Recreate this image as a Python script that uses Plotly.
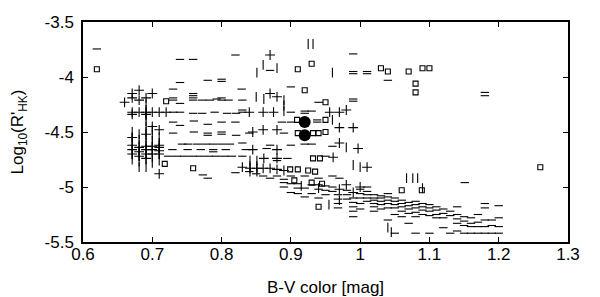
import plotly.graph_objects as go

# ---- data (B-V colour, log10 R'HK) ----
dash_x = [0.62, 0.74, 0.759, 0.82, 0.74, 0.73, 0.78, 0.80, 0.80, 0.829, 0.87, 0.90, 0.99, 0.99, 1.01, 1.01,
          0.99, 0.99, 1.04, 1.18, 1.18, 0.94, 0.99,
          0.73, 0.73, 0.74, 0.759, 0.759, 0.759, 0.759, 0.772, 0.783, 0.793, 0.80, 0.80, 0.81, 0.83,
          0.73, 0.74, 0.759, 0.772, 0.79, 0.808, 0.821, 0.83, 0.83, 0.90, 0.92, 0.92, 0.93,
          0.73, 0.74, 0.76, 0.78, 0.80, 0.82, 0.887, 0.90, 0.938, 0.938,
          0.73, 0.76, 0.78, 0.78, 0.80, 0.80, 0.821, 0.84, 0.89,
          0.743, 0.752, 0.765, 0.777, 0.788, 0.80, 0.812, 0.83, 0.87, 0.90, 0.92, 0.93, 0.96,
          0.729, 0.751, 0.77, 0.788, 0.788, 0.806, 0.835, 0.865,
          0.723, 0.735, 0.746, 0.758, 0.769, 0.781, 0.792, 0.804, 0.815, 0.83, 0.88, 0.895, 0.95,
          0.773, 0.78, 0.82, 0.84, 0.85, 0.86, 0.87, 0.88, 0.89, 0.90, 0.92, 0.94, 0.96, 0.97, 1.151,
          0.89, 0.90, 0.91, 0.93, 0.94, 0.95, 0.96, 0.89, 0.91, 0.92, 0.94, 0.95, 0.96,
          0.90, 0.91, 0.93, 0.95, 0.92, 0.94,
          0.968, 0.968, 0.968, 0.968, 0.981, 0.981, 0.981, 0.99, 0.99, 0.99, 0.99, 0.99,
          1.00, 1.00, 1.00, 1.00, 1.00, 1.01, 1.01, 1.01, 1.01, 1.01,
          1.02, 1.02, 1.02, 1.02, 1.02, 1.02, 1.03, 1.03, 1.03, 1.03, 1.03,
          1.04, 1.04, 1.04, 1.04, 1.04, 1.04, 1.05, 1.05, 1.05, 1.05, 1.05, 1.05,
          1.06, 1.06, 1.06, 1.06, 1.06, 1.07, 1.07, 1.07, 1.07, 1.07,
          1.08, 1.08, 1.08, 1.08, 1.08, 1.08, 1.09, 1.09, 1.09, 1.09,
          1.10, 1.10, 1.10, 1.10, 1.10, 1.11, 1.11, 1.11, 1.11,
          1.12, 1.12, 1.12, 1.12, 1.13, 1.13, 1.13, 1.14, 1.14, 1.14, 1.14, 1.14,
          1.15, 1.15, 1.15, 1.15, 1.16, 1.16, 1.16, 1.16, 1.17, 1.17, 1.17, 1.17,
          1.18, 1.18, 1.18, 1.18, 1.18, 1.19, 1.19, 1.19, 1.20, 1.20, 1.20, 1.20]
dash_y = [-3.745, -3.84, -3.84, -3.80, -4.05, -4.11, -4.03, -4.02, -4.04, -4.11, -3.94, -4.09, -3.95, -3.97, -3.95, -3.97,
          -4.20, -4.22, -4.03, -4.14, -4.17, -4.23, -3.79,
          -4.19, -4.21, -4.24, -4.15, -4.17, -4.19, -4.21, -4.21, -4.21, -4.20, -4.19, -4.21, -4.21, -4.21,
          -4.32, -4.32, -4.33, -4.33, -4.32, -4.33, -4.33, -4.30, -4.32, -4.32, -4.31, -4.33, -4.31,
          -4.41, -4.44, -4.40, -4.43, -4.41, -4.41, -4.41, -4.41, -4.39, -4.41,
          -4.51, -4.50, -4.51, -4.53, -4.50, -4.52, -4.53, -4.51, -4.51,
          -4.61, -4.61, -4.61, -4.61, -4.61, -4.61, -4.61, -4.60, -4.62, -4.62, -4.61, -4.61, -4.63,
          -4.66, -4.66, -4.66, -4.66, -4.68, -4.66, -4.66, -4.65,
          -4.72, -4.72, -4.72, -4.72, -4.72, -4.72, -4.72, -4.72, -4.72, -4.72, -4.76, -4.74, -4.72,
          -4.89, -4.92, -4.87, -4.86, -4.88, -4.90, -4.92, -4.90, -4.93, -4.90, -4.90, -4.92, -4.90, -4.92, -4.96,
          -4.96, -4.97, -4.97, -4.98, -4.98, -4.99, -5.00, -5.00, -5.01, -5.01, -5.02, -5.03, -5.04,
          -5.05, -5.06, -5.06, -5.07, -5.09, -5.10,
          -5.07, -5.11, -5.15, -5.19, -5.03, -5.07, -5.11, -5.10, -5.14, -5.18, -5.22, -5.27,
          -5.02, -5.06, -5.10, -5.15, -5.20, -5.00, -5.04, -5.07, -5.10, -5.13,
          -5.07, -5.10, -5.12, -5.15, -5.18, -5.22, -5.08, -5.10, -5.13, -5.16, -5.20,
          -5.06, -5.09, -5.12, -5.15, -5.19, -5.30, -5.10, -5.13, -5.16, -5.19, -5.25, -5.42,
          -5.12, -5.15, -5.18, -5.22, -5.27, -5.14, -5.17, -5.20, -5.24, -5.33,
          -5.13, -5.16, -5.19, -5.23, -5.27, -5.42, -5.15, -5.18, -5.21, -5.25,
          -5.16, -5.19, -5.22, -5.26, -5.42, -5.18, -5.21, -5.25, -5.28,
          -5.20, -5.24, -5.28, -5.37, -5.22, -5.26, -5.42, -5.18, -5.25, -5.29, -5.33, -5.40,
          -5.27, -5.31, -5.35, -5.42, -5.28, -5.33, -5.36, -5.42, -5.25, -5.32, -5.36, -5.42,
          -5.15, -5.19, -5.30, -5.36, -5.42, -5.30, -5.35, -5.42, -5.17, -5.28, -5.36, -5.42]

plus_x = [0.671, 0.671, 0.671, 0.671, 0.671, 0.671, 0.671, 0.671,
          0.681, 0.681, 0.681, 0.681, 0.681, 0.681,
          0.691, 0.691, 0.691, 0.691, 0.691, 0.691, 0.691, 0.691,
          0.70, 0.70, 0.70, 0.70, 0.70, 0.70,
          0.71, 0.71, 0.71, 0.71, 0.71, 0.71, 0.71, 0.72, 0.66,
          0.845, 0.86, 0.88, 0.87, 0.87, 0.88, 0.84, 0.86, 0.875, 0.956, 0.97, 0.98, 0.99, 0.97,
          0.997, 0.845, 0.88, 0.97, 0.861, 0.88, 0.961, 0.841, 0.851, 0.86, 0.87, 0.88, 0.89,
          0.83, 1.01, 0.98, 1.00, 0.97, 0.99]
plus_y = [-4.15, -4.19, -4.32, -4.34, -4.55, -4.62, -4.66, -4.70,
          -4.12, -4.21, -4.32, -4.64, -4.68, -4.72,
          -4.19, -4.32, -4.34, -4.52, -4.63, -4.66, -4.70, -4.74,
          -4.15, -4.32, -4.45, -4.63, -4.66, -4.70,
          -4.32, -4.48, -4.62, -4.64, -4.67, -4.70, -4.88, -4.32, -4.23,
          -4.50, -4.48, -4.48, -3.80, -4.15, -4.18, -4.32, -4.32, -4.32, -4.32, -4.32, -4.30, -4.46, -4.46,
          -4.65, -4.66, -4.66, -4.60, -4.74, -4.74, -4.73, -4.83, -4.83, -4.83, -4.83, -4.84, -4.85,
          -4.82, -4.82, -4.98, -5.00, -5.02, -5.05]

square_x = [0.62, 0.91, 0.93, 0.92, 0.95, 0.909, 0.95, 0.91, 0.932, 0.94, 0.72, 0.759, 0.718,
            1.03, 1.04, 1.07, 1.09, 1.10, 1.08, 1.08, 1.26, 0.94, 1.06, 1.089, 0.95, 0.932, 0.942,
            0.899, 0.91, 0.925, 0.935, 0.905, 0.93, 0.945]
square_y = [-3.93, -3.93, -3.88, -4.12, -4.23, -4.39, -4.39, -4.51, -4.51, -4.51, -4.22, -4.83, -4.79,
            -3.92, -3.95, -3.95, -3.92, -3.92, -4.06, -4.14, -4.82, -5.18, -5.03, -5.03, -4.50, -4.74, -4.74,
            -4.84, -4.84, -4.85, -4.86, -4.94, -4.96, -4.97]

vbar_x = [0.671, 0.671, 0.671, 0.671, 0.671, 0.671,
          0.681, 0.681, 0.681, 0.681, 0.681, 0.681, 0.681,
          0.691, 0.691, 0.691, 0.691, 0.691, 0.691, 0.691, 0.691, 0.691, 0.691, 0.691, 0.691,
          0.70, 0.70, 0.70, 0.70, 0.70, 0.70, 0.70,
          0.71, 0.71, 0.71, 0.71, 0.71,
          0.925, 0.932, 0.86, 0.88, 0.851, 0.96, 0.85, 0.861, 0.89, 0.89, 0.89, 0.96,
          0.841, 0.841, 0.841, 0.851, 0.851, 0.851, 0.98, 0.99, 1.00,
          1.067, 1.076, 1.083, 1.09, 1.045, 1.04,
          0.915, 0.94, 0.955, 0.97]
vbar_y = [-4.50, -4.55, -4.60, -4.65, -4.70, -4.75,
          -4.52, -4.57, -4.62, -4.67, -4.72, -4.77, -4.82,
          -4.25, -4.30, -4.35, -4.40, -4.45, -4.50, -4.55, -4.60, -4.65, -4.70, -4.75, -4.82,
          -4.48, -4.53, -4.58, -4.63, -4.68, -4.73, -4.78,
          -4.55, -4.60, -4.65, -4.70, -4.76,
          -3.70, -3.70, -3.89, -3.92, -3.96, -3.96, -4.18, -4.20, -4.21, -4.26, -4.31, -4.39,
          -4.76, -4.81, -4.86, -4.76, -4.81, -4.86, -4.64, -4.80, -4.82,
          -4.92, -4.92, -4.92, -5.01, -5.41, -5.37,
          -4.99, -5.01, -5.16, -5.12]

circle_x = [0.92, 0.92]
circle_y = [-4.41, -4.53]

x_ticks = [0.6, 0.7, 0.8, 0.9, 1.0, 1.1, 1.2, 1.3]
x_tick_text = ["0.6", "0.7", "0.8", "0.9", "1", "1.1", "1.2", "1.3"]
y_ticks = [-5.5, -5.0, -4.5, -4.0, -3.5]
y_tick_text = ["-5.5", "-5", "-4.5", "-4", "-3.5"]

fig = go.Figure()
lw = 1.1
fig.add_trace(go.Scatter(x=dash_x, y=dash_y, mode="markers",
                         marker=dict(symbol="line-ew", size=6, line=dict(width=lw, color="black"))))
fig.add_trace(go.Scatter(x=vbar_x, y=vbar_y, mode="markers",
                         marker=dict(symbol="line-ns", size=7, line=dict(width=lw, color="black"))))
fig.add_trace(go.Scatter(x=plus_x, y=plus_y, mode="markers",
                         marker=dict(symbol="cross-thin", size=7, line=dict(width=lw, color="black"))))
fig.add_trace(go.Scatter(x=square_x, y=square_y, mode="markers",
                         marker=dict(symbol="square-open", size=5, color="black", line=dict(width=lw, color="black"))))
fig.add_trace(go.Scatter(x=circle_x, y=circle_y, mode="markers",
                         marker=dict(symbol="circle", size=12, color="black")))

axis_font = dict(family="Liberation Sans, Arial, sans-serif", size=17, color="black")
# the page body adds an 8px offset, so the figure is sized to sit inside the window
fig.update_layout(
    width=592, height=289,
    margin=dict(l=75, r=32, t=14, b=55),
    paper_bgcolor="white", plot_bgcolor="white",
    showlegend=False,
    font=axis_font,
)
fig.update_xaxes(range=[0.6, 1.3], tickvals=x_ticks, ticktext=x_tick_text, automargin=False,
                 showline=True, linecolor="black", linewidth=1.5, mirror="ticks",
                 ticks="inside", ticklen=5, tickcolor="black", showgrid=False, zeroline=False,
                 ticklabelstandoff=-4,
                 title=dict(text="B-V color [mag]", font=axis_font, standoff=20))
fig.update_yaxes(range=[-5.5, -3.5], tickvals=y_ticks, ticktext=y_tick_text, automargin=False,
                 showline=True, linecolor="black", linewidth=1.5, mirror="ticks",
                 ticks="inside", ticklen=5, tickcolor="black", showgrid=False, zeroline=False,
                 ticklabelstandoff=4,
                 title=dict(text="Log<sub>10</sub>(R'<sub>HK</sub>)", font=axis_font, standoff=26))

fig.write_html("out.html")
